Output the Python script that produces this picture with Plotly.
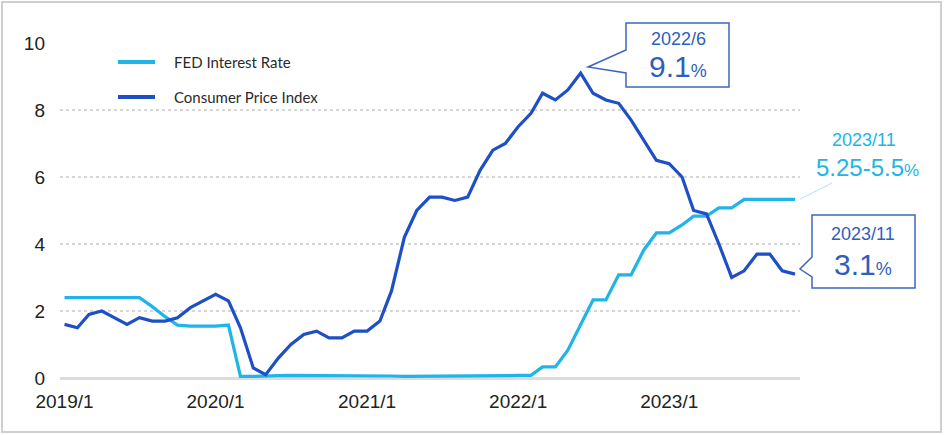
import pandas as pd
import plotly.graph_objects as go

months = pd.date_range("2019-01-01", periods=59, freq="MS")

fed_rate = [
    2.40, 2.40, 2.41, 2.42, 2.40, 2.40, 2.40, 2.13, 1.83, 1.58, 1.55, 1.55,
    1.55, 1.58, 0.05, 0.05, 0.05, 0.07, 0.08, 0.08, 0.08, 0.08, 0.08, 0.08,
    0.07, 0.06, 0.06, 0.05, 0.05, 0.06, 0.07, 0.07, 0.06, 0.06, 0.06, 0.07,
    0.08, 0.08, 0.33, 0.33, 0.83, 1.58, 2.33, 2.33, 3.08, 3.08, 3.83, 4.33,
    4.33, 4.57, 4.83, 4.83, 5.08, 5.08, 5.33, 5.33, 5.33, 5.33, 5.33,
]
cpi = [
    1.6, 1.5, 1.9, 2.0, 1.8, 1.6, 1.8, 1.7, 1.7, 1.8, 2.1, 2.3,
    2.5, 2.3, 1.5, 0.3, 0.1, 0.6, 1.0, 1.3, 1.4, 1.2, 1.2, 1.4,
    1.4, 1.7, 2.6, 4.2, 5.0, 5.4, 5.4, 5.3, 5.4, 6.2, 6.8, 7.0,
    7.5, 7.9, 8.5, 8.3, 8.6, 9.1, 8.5, 8.3, 8.2, 7.7, 7.1, 6.5,
    6.4, 6.0, 5.0, 4.9, 4.0, 3.0, 3.2, 3.7, 3.7, 3.2, 3.1,
]
tick_dates = ["2019-01-01", "2020-01-01", "2021-01-01", "2022-01-01", "2023-01-01"]
tick_labels = ["2019/1", "2020/1", "2021/1", "2022/1", "2023/1"]
y_ticks = [0, 2, 4, 6, 8, 10]

FED_COLOR = "#20B4E9"
CPI_COLOR = "#1D4FC6"
BOX_COLOR = "#3D67BE"
TXT_BLUE = "#2E5EBE"
FONT = "Liberation Sans, Arial, sans-serif"

W, H = 944, 435
L, R, T, B = 60, 800, 43, 378


def px(x):
    return (x - L) / (R - L)


def py(y):
    return (B - y) / (B - T)


fig = go.Figure()
fig.add_trace(go.Scatter(x=months, y=fed_rate, mode="lines", name="FED Interest Rate",
                         line=dict(color=FED_COLOR, width=3.2)))
fig.add_trace(go.Scatter(x=months, y=cpi, mode="lines", name="Consumer Price Index",
                         line=dict(color=CPI_COLOR, width=3.2)))

shapes = []
annotations = []

# legend (manual)
for yy, col, name in [(62, FED_COLOR, "FED Interest Rate"), (97, CPI_COLOR, "Consumer Price Index")]:
    shapes.append(dict(type="line", xref="paper", yref="paper", x0=px(118), x1=px(155),
                       y0=py(yy), y1=py(yy), line=dict(color=col, width=4)))
    annotations.append(dict(xref="paper", yref="paper", x=px(172), y=py(yy), text=name,
                            showarrow=False, xanchor="left", yanchor="middle",
                            font=dict(family="Lato, Noto Sans, sans-serif", size=15, color="#2a2a2a")))


def callout(x0, y0, x1, y1, ta, tb, tipx, tipy):
    path = (f"M {px(x0)},{py(y0)} L {px(x1)},{py(y0)} L {px(x1)},{py(y1)} L {px(x0)},{py(y1)} "
            f"L {px(x0)},{py(tb)} L {px(tipx)},{py(tipy)} L {px(x0)},{py(ta)} Z")
    shapes.append(dict(type="path", xref="paper", yref="paper", path=path,
                       line=dict(color=BOX_COLOR, width=1.5), fillcolor="white"))


callout(626, 23, 729, 87, 50, 73, 588, 67)
callout(812, 215, 915, 288, 257, 277, 800, 269)

# leader line for fed rate label
shapes.append(dict(type="line", xref="paper", yref="paper", x0=px(800), y0=py(199),
                   x1=px(832), y1=py(183), line=dict(color="#b5dfec", width=1)))

# outer frame
shapes.append(dict(type="rect", xref="paper", yref="paper", x0=px(2), y0=py(2),
                   x1=px(941), y1=py(432), line=dict(color="#cfcfcf", width=2), layer="below"))


def txt(x, y, text, size, color):
    annotations.append(dict(xref="paper", yref="paper", x=px(x), y=py(y), text=text,
                            showarrow=False, xanchor="center", yanchor="middle",
                            font=dict(family=FONT, size=size, color=color)))


txt(678, 39, "2022/6", 18, TXT_BLUE)
txt(678, 67, "9.1<span style='font-size:18px'>%</span>", 30, TXT_BLUE)
txt(863, 234, "2023/11", 18, TXT_BLUE)
txt(863, 264, "3.1<span style='font-size:18px'>%</span>", 30, TXT_BLUE)
txt(864, 140, "2023/11", 18, FED_COLOR)
txt(867, 167, "5.25-5.5<span style='font-size:17px'>%</span>", 24, FED_COLOR)

fig.update_layout(
    width=W, height=H,
    margin=dict(l=L, r=W - R, t=T, b=H - B),
    paper_bgcolor="white", plot_bgcolor="white",
    showlegend=False,
    shapes=shapes, annotations=annotations,
    xaxis=dict(type="date", range=["2018-12-21", "2023-11-13"], tickvals=tick_dates,
               ticktext=tick_labels, showgrid=False, zeroline=False, showline=False,
               ticks="", tickfont=dict(family=FONT, size=19, color="#222222"),
               ticklabelstandoff=10),
    yaxis=dict(range=[0, 10], tickvals=y_ticks, showgrid=True, gridcolor="#d6d6d6",
               griddash="dot", gridwidth=1.5, zeroline=True, zerolinecolor="#dcdcdc",
               zerolinewidth=3, showline=False, ticks="",
               tickfont=dict(family=FONT, size=19, color="#222222"), ticklabelstandoff=14),
)

fig.write_html("out.html", config={"displayModeBar": False},
               post_script="document.body.style.margin='0';document.body.style.overflow='hidden';")
